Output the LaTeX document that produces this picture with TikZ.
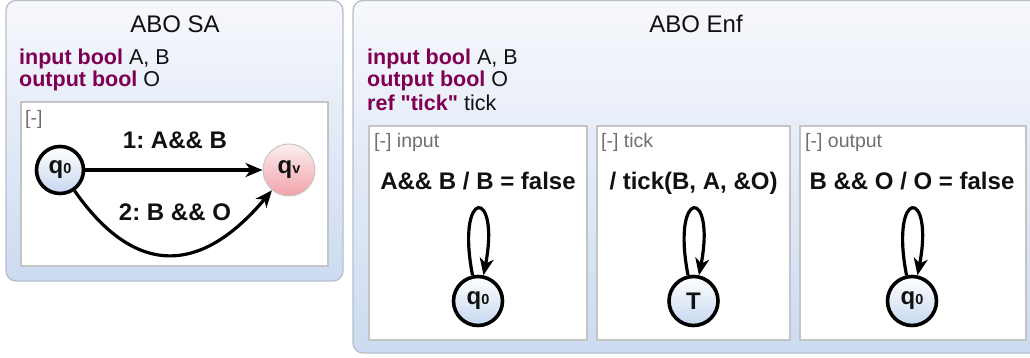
\documentclass[tikz,border=0pt]{standalone}
\usepackage{fontspec}
\setmainfont{Liberation Sans}[Ligatures=TeXOff]
\usetikzlibrary{arrows.meta}
\definecolor{ink}{HTML}{111111}
\definecolor{kw}{HTML}{7F0052}
\definecolor{muted}{HTML}{707070}
\definecolor{paneltop}{HTML}{F7F8FC}
\definecolor{panelbot}{HTML}{CCDBF1}
\definecolor{panelrule}{HTML}{B7BEC9}
\definecolor{boxrule}{HTML}{C4C4C4}
\definecolor{statebot}{HTML}{C6D7F0}
\definecolor{errtop}{HTML}{FDEEEE}
\definecolor{errbot}{HTML}{F0A2AA}
\definecolor{errrule}{HTML}{C8C8C8}
\newcommand{\kwd}[1]{\textcolor{kw}{\bfseries #1}}
\newcommand{\stname}[2]{#1{\fontsize{14.5}{14.5}\selectfont #2}}
\frenchspacing

\begin{document}
\begin{tikzpicture}[x=1pt,y=1pt,text=ink,>=Stealth,
    panel/.style={rounded corners=10pt,draw=panelrule,line width=1.3pt,top color=paneltop,bottom color=panelbot},
    region/.style={draw=boxrule,line width=1.3pt,fill=white},
    boxtitle/.style={anchor=base,font=\fontsize{24}{26}\selectfont,inner sep=0pt},
    decl/.style={anchor=base west,font=\fontsize{21.5}{23}\selectfont,inner sep=0pt},
    fold/.style={anchor=base west,font=\fontsize{19.5}{21}\selectfont,text=muted,inner sep=0pt},
    guard/.style={anchor=base,font=\bfseries\fontsize{24}{26}\selectfont,inner sep=0pt},
    initstate/.style={circle,draw=black,line width=3.6pt,top color=white,bottom color=statebot,
        minimum size=47pt,inner sep=0pt,font=\bfseries\fontsize{24}{24}\selectfont},
    errstate/.style={circle,draw=errrule,line width=1pt,top color=errtop,bottom color=errbot,
        minimum size=52pt,inner sep=0pt,font=\bfseries\fontsize{24}{24}\selectfont},
    trans/.style={-{Stealth[length=17pt,width=14pt,inset=5pt]},line width=3.2pt,draw=black}]
  \useasboundingbox[fill=white] (0,0) rectangle (1030,358);

  \draw[panel] (6,357.5) rectangle (343,77);
  \node[boxtitle] (satitle) at (175,325) {ABO SA};
  \node[decl] (sain) at (19,293.5) {\kwd{input bool} A, B};
  \node[decl] (saout) at (19,271) {\kwd{output bool} O};
  \draw[region] (21,256) rectangle (328,92);
  \node[fold] (safold) at (25,233) {[-]};
  \node[initstate] (saqz) at (60,188) {\stname{q}{0}};
  \node[errstate] (saqv) at (289,188) {\stname{q}{v}};
  \node[guard] (saone) at (175,209) {1: A\&\& B};
  \node[guard] (satwo) at (175,137) {2: B \&\& O};
  \draw[trans] (saqz) -- (saqv);
  \draw[trans] (saqz) to[out=-55,in=-130,looseness=1.4] (saqv);

  \draw[panel] (353,357.5) rectangle (1045,5);
  \node[boxtitle] (enftitle) at (696,325) {ABO Enf};
  \node[decl] (enfin) at (367,293.5) {\kwd{input bool} A, B};
  \node[decl] (enfout) at (367,271) {\kwd{output bool} O};
  \node[decl] (enfref) at (367,247) {\kwd{ref "tick"} tick};

  \draw[region] (369,232) rectangle (587,18);
  \node[fold] (inputfold) at (374,210) {[-] input};
  \node[guard] (inputguard) at (478,168) {A\&\& B / B = false};
  \node[initstate,minimum size=49pt] (inputq) at (478,57) {\stname{q}{0}};
  \draw[trans] (inputq.102) .. controls +(101:90) and +(79:90) .. (inputq.78);

  \draw[region] (597,232) rectangle (790,18);
  \node[fold] (tickfold) at (601,210) {[-] tick};
  \node[guard] (tickguard) at (693.5,168) {/ tick(B, A, \&O)};
  \node[initstate,minimum size=49pt] (tickq) at (693.5,57) {T};
  \draw[trans] (tickq.102) .. controls +(101:90) and +(79:90) .. (tickq.78);

  \draw[region] (800,232) rectangle (1026,18);
  \node[fold] (outputfold) at (805,210) {[-] output};
  \node[guard] (outputguard) at (912,168) {B \&\& O / O = false};
  \node[initstate,minimum size=49pt] (outputq) at (912,57) {\stname{q}{0}};
  \draw[trans] (outputq.102) .. controls +(101:90) and +(79:90) .. (outputq.78);
\end{tikzpicture}
\end{document}
